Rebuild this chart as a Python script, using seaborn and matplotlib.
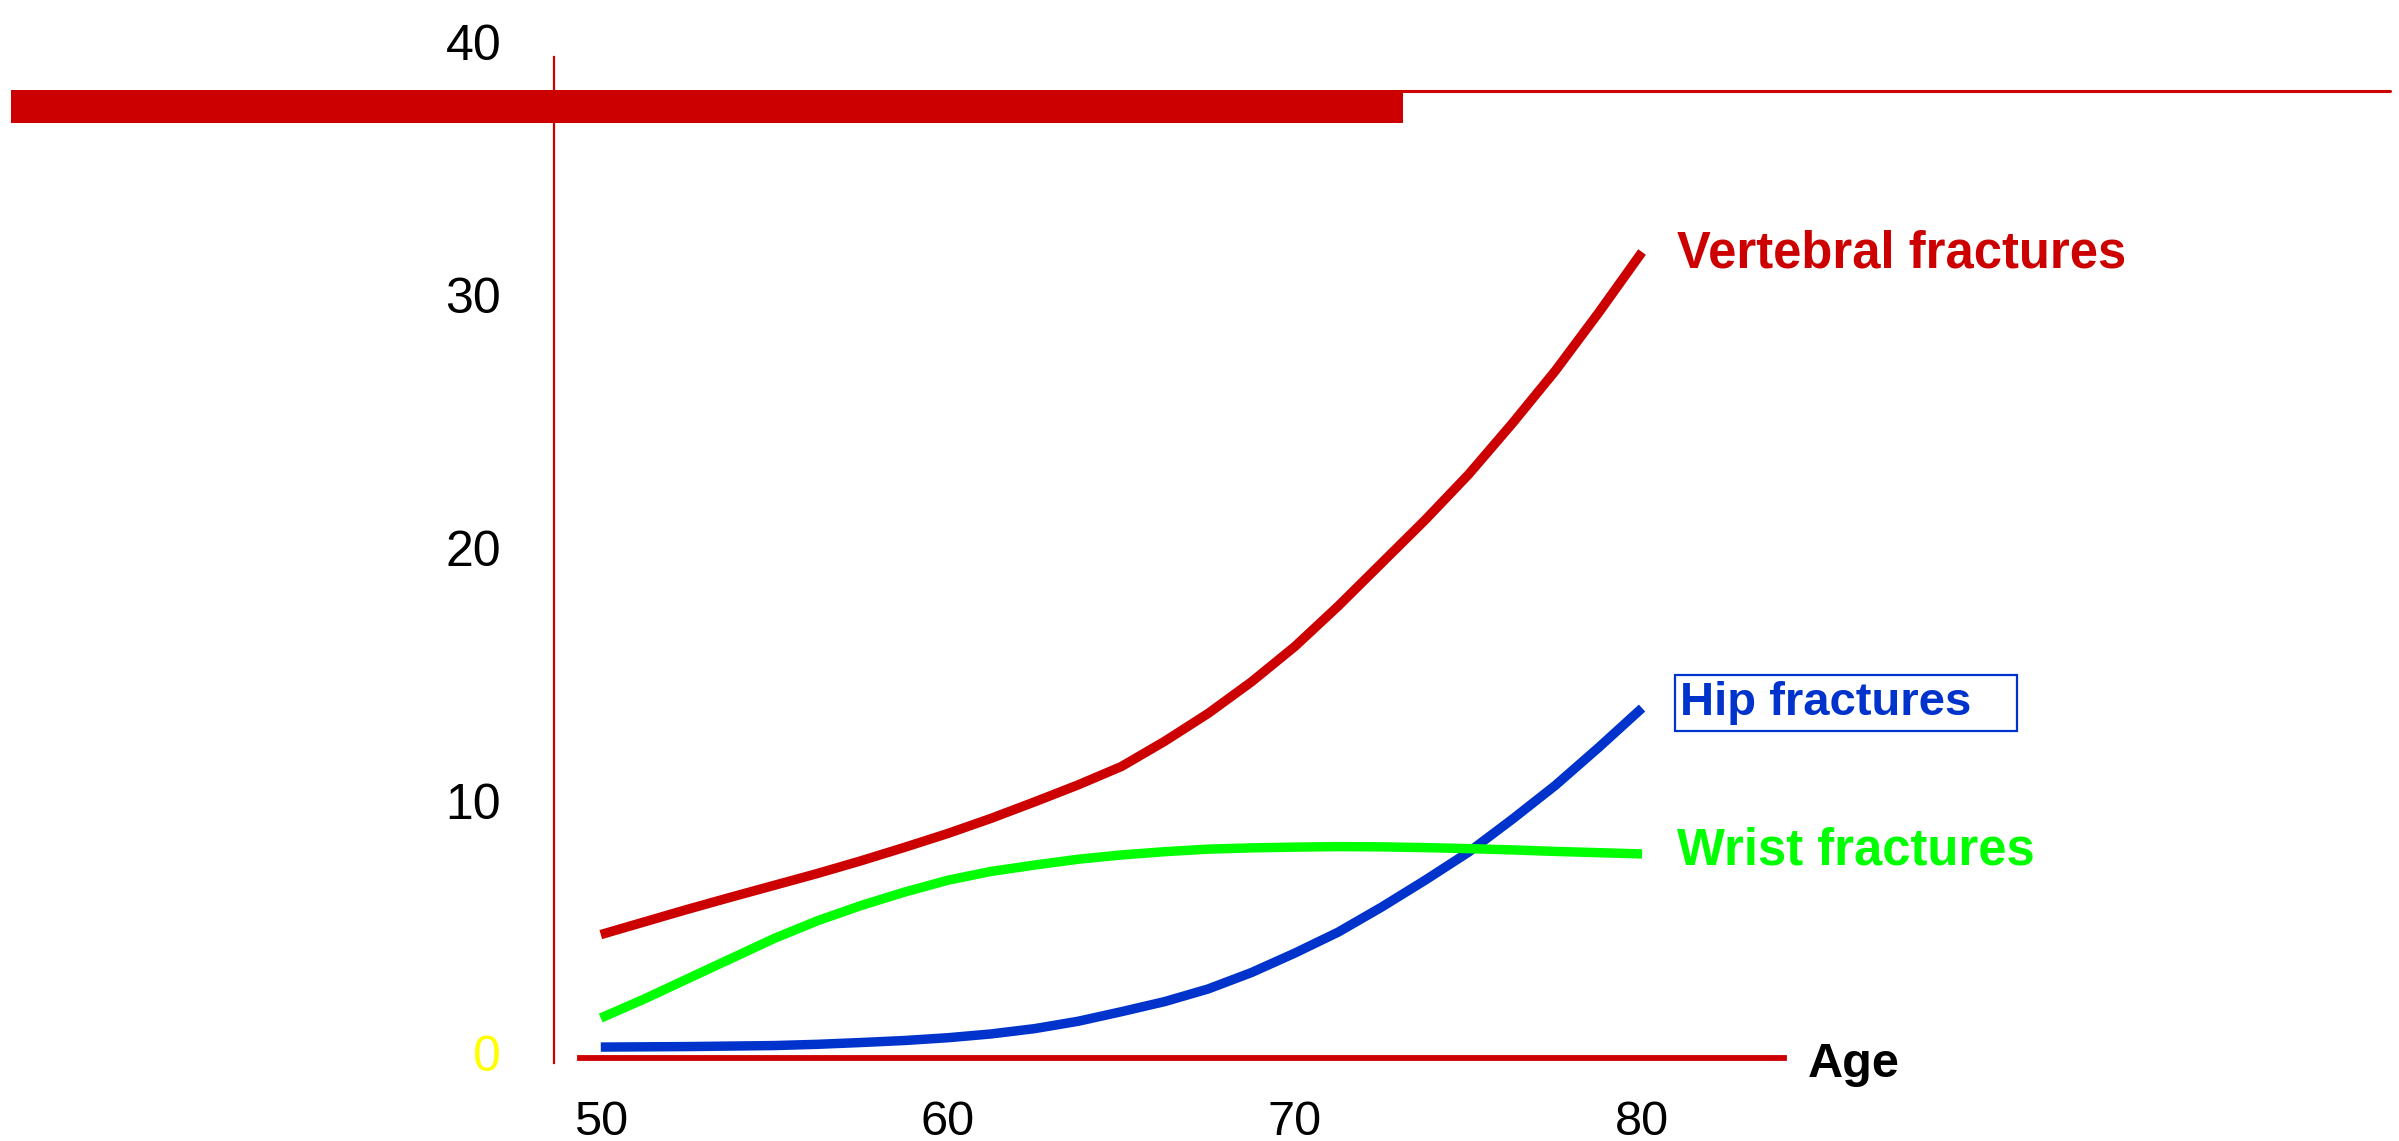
import matplotlib
matplotlib.use("Agg")
import matplotlib.pyplot as plt
import matplotlib.patches as mpatches
import matplotlib.lines as mlines
import pandas as pd
import seaborn as sns

RED = "#cc0000"
GREEN = "#00ff00"
BLUE = "#0033cc"

# ages (x) and fracture incidence
ages = [50, 51.25, 52.5, 53.75, 55, 56.25, 57.5, 58.75, 60, 61.25, 62.5, 63.75, 65,
        66.25, 67.5, 68.75, 70, 71.25, 72.5, 73.75, 75, 76.25, 77.5, 78.75, 80]
vertebral = [4.7, 5.2, 5.7, 6.18, 6.65, 7.12, 7.62, 8.15, 8.7, 9.3, 9.95, 10.62, 11.35,
             12.35, 13.45, 14.7, 16.1, 17.7, 19.4, 21.1, 22.9, 24.9, 27.0, 29.3, 31.7]
hip = [0.25, 0.26, 0.27, 0.29, 0.31, 0.36, 0.43, 0.51, 0.62, 0.77, 0.98, 1.27, 1.65,
       2.05, 2.55, 3.2, 3.97, 4.8, 5.79, 6.85, 7.96, 9.25, 10.6, 12.1, 13.66]
wrist = [1.4, 2.15, 2.95, 3.75, 4.55, 5.25, 5.85, 6.38, 6.85, 7.2, 7.45, 7.68, 7.85,
         7.98, 8.08, 8.13, 8.16, 8.18, 8.17, 8.14, 8.1, 8.05, 7.99, 7.94, 7.89]

series_names = ["Vertebral fractures", "Hip fractures", "Wrist fractures"]
series_colors = [RED, BLUE, GREEN]
x_ticks = [50, 60, 70, 80]
y_ticks = [0, 10, 20, 30, 40]

df = pd.concat([
    pd.DataFrame({"age": ages, "rate": vals, "type": name})
    for name, vals in zip(series_names, [vertebral, hip, wrist])
])

sns.set_theme(style="white")
plt.rcParams["font.family"] = ["Liberation Sans", "DejaVu Sans"]

fig = plt.figure(figsize=(23.99, 11.41), dpi=100)
ax = fig.add_axes([0.2309, 0.0657, 0.5194, 0.8973])

sns.lineplot(data=df, x="age", y="rate", hue="type", hue_order=series_names,
             palette=dict(zip(series_names, series_colors)), linewidth=6.8,
             legend=False, ax=ax, solid_capstyle="butt", solid_joinstyle="round",
             sort=False)

ax.set_xlim(48.65, 84.55)
ax.set_ylim(-0.5, 40)
ax.set_xlabel("")
ax.set_ylabel("")

for s in ["top", "right"]:
    ax.spines[s].set_visible(False)
ax.spines["left"].set_color(RED)
ax.spines["left"].set_linewidth(1.6)
ax.spines["left"].set_bounds(-0.38, 39.4)
ax.spines["bottom"].set_color(RED)
ax.spines["bottom"].set_linewidth(4.2)
ax.spines["bottom"].set_position(("data", -0.18))
ax.spines["bottom"].set_bounds(49.4, 84.1)

ax.set_xticks(x_ticks)
ax.set_xticklabels([str(t) for t in x_ticks])
ax.set_yticks(y_ticks)
ax.set_yticklabels([str(t) for t in y_ticks])
ax.tick_params(axis="x", length=0, pad=30, labelsize=35, colors="black")
ax.tick_params(axis="y", length=0, pad=38, labelsize=36, colors="black")
ax.get_yticklabels()[0].set_color("#ffff00")

# series labels at the line ends
ax.text(81.0, 31.1, "Vertebral fractures", color=RED, fontsize=36.5,
        fontweight="bold", va="baseline", ha="left", clip_on=False)
ax.text(81.1, 13.39, "Hip fractures   ", color=BLUE, fontsize=34,
        fontweight="bold", va="baseline", ha="left", clip_on=False,
        bbox=dict(boxstyle="square,pad=0.12", facecolor="white",
                  edgecolor=BLUE, linewidth=1.6))
ax.text(81.0, 7.46, "Wrist fractures", color=GREEN, fontsize=36.5,
        fontweight="bold", va="baseline", ha="left", clip_on=False)
ax.text(84.78, -0.93, "Age", color="black", fontsize=35,
        fontweight="bold", va="baseline", ha="left", clip_on=False)

# slide title bar decoration
fig.add_artist(mpatches.Rectangle((0.0046, 0.8922), 0.5802, 0.0289,
                                  transform=fig.transFigure, color=RED, lw=0))
fig.add_artist(mlines.Line2D([0.5848, 0.9962], [0.9203, 0.9203],
                             transform=fig.transFigure, color=RED, lw=2.2))

fig.savefig("out.png", dpi=100, facecolor="white")
